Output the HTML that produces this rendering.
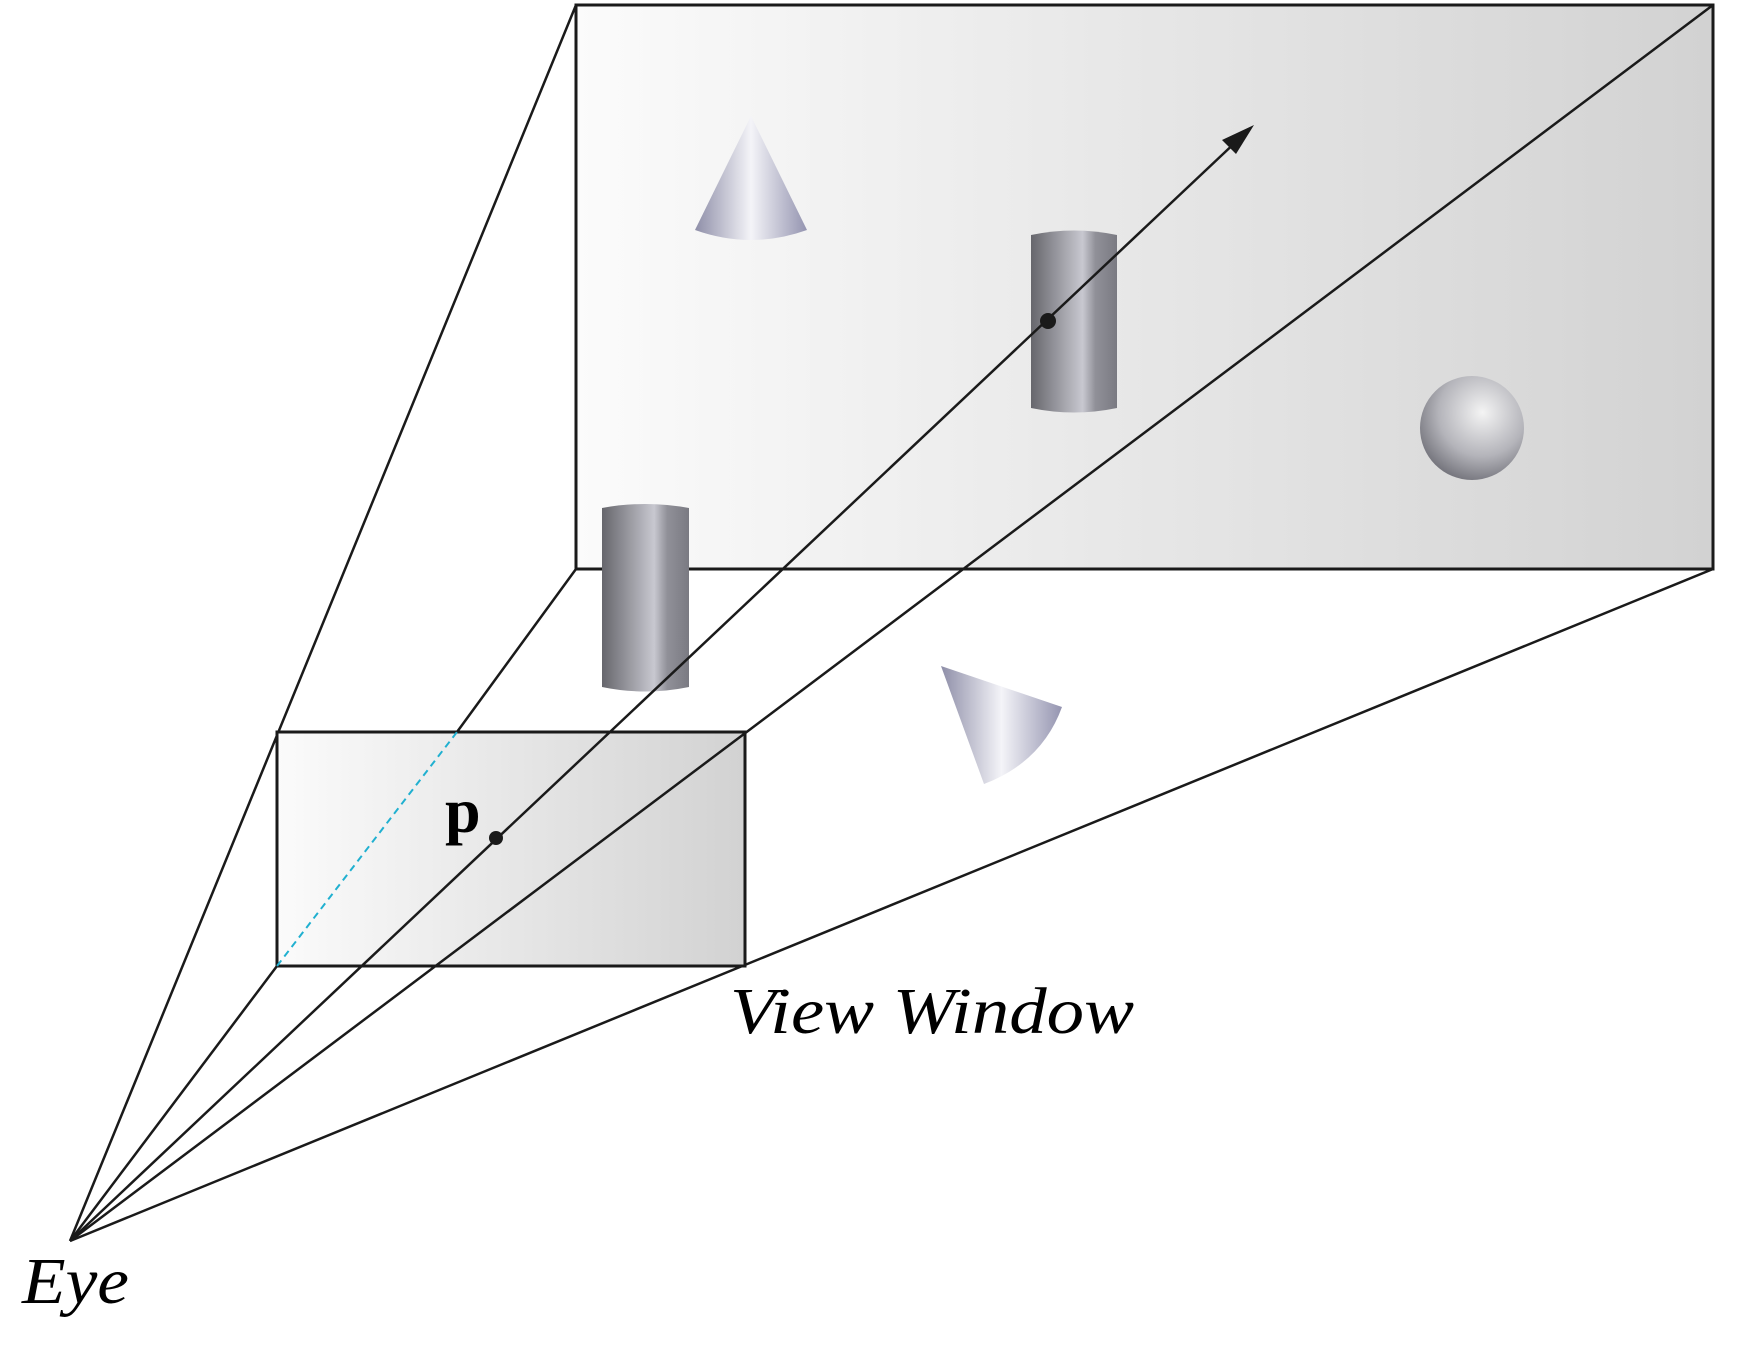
<!DOCTYPE html>
<html><head><style>body{margin:0;background:#fff}svg{display:block}</style></head><body>
<svg width="1757" height="1348" viewBox="0 0 1757 1348" xmlns="http://www.w3.org/2000/svg">
<defs>
<linearGradient id="bg" x1="0" x2="1" y1="0" y2="0"><stop offset="0" stop-color="#fbfbfb"/><stop offset="1" stop-color="#d2d2d2"/></linearGradient>
<linearGradient id="cyl" x1="0" x2="1"><stop offset="0" stop-color="#66666c"/><stop offset="0.6" stop-color="#c8c8d0"/><stop offset="0.75" stop-color="#909098"/><stop offset="1" stop-color="#7a7a82"/></linearGradient>
<linearGradient id="cone" x1="0" x2="1"><stop offset="0" stop-color="#8e8ea8"/><stop offset="0.5" stop-color="#f4f4f8"/><stop offset="1" stop-color="#9494b0"/></linearGradient>
<radialGradient id="sph" cx="0.6" cy="0.35" r="0.7"><stop offset="0" stop-color="#f4f4f4"/><stop offset="0.6" stop-color="#b4b4ba"/><stop offset="1" stop-color="#707078"/></radialGradient>
</defs>
<rect x="576" y="5" width="1137" height="564" fill="url(#bg)" stroke="#1a1a1a" stroke-width="3"/>
<g stroke="#1a1a1a" stroke-width="2.5" fill="none">
<line x1="70" y1="1241" x2="576" y2="5"/>
<line x1="457" y1="732" x2="576" y2="569"/>
<line x1="70" y1="1241" x2="1713" y2="569"/>
</g>
<path d="M751 116 L695 230 Q751 250 807 230 Z" fill="url(#cone)"/>
<path d="M1031 235 Q1074 226 1117 235 L1117 408 Q1074 417 1031 408 Z" fill="url(#cyl)"/>
<circle cx="1472" cy="428" r="52" fill="url(#sph)"/>
<path d="M602 508 Q645 500 689 508 L689 687 Q645 696 602 687 Z" fill="url(#cyl)"/>
<path d="M941 666 L1062 707 Q1042 762 984 784 Z" fill="url(#cone)"/>
<rect x="277" y="732" width="468" height="234" fill="url(#bg)" stroke="#1a1a1a" stroke-width="3"/>
<line x1="277" y1="966" x2="457" y2="732" stroke="#20b0d0" stroke-width="2" stroke-dasharray="7,5"/>
<g stroke="#1a1a1a" stroke-width="2.5" fill="none">
<line x1="70" y1="1241" x2="277" y2="966"/>
<line x1="70" y1="1241" x2="1713" y2="5"/>
<line x1="70" y1="1241" x2="1240" y2="138"/>
</g>
<polygon points="1254,125 1222,140 1236,154" fill="#1a1a1a"/>
<circle cx="496" cy="838" r="7" fill="#1a1a1a"/>
<circle cx="1048" cy="321" r="8" fill="#1a1a1a"/>
<text x="445" y="832" font-family="Liberation Serif, serif" font-weight="bold" font-size="64">p</text>
<text x="730" y="1033" font-family="Liberation Serif, serif" font-style="italic" font-size="66" textLength="404" lengthAdjust="spacingAndGlyphs">View Window</text>
<text x="22" y="1303" font-family="Liberation Serif, serif" font-style="italic" font-size="66" textLength="107" lengthAdjust="spacingAndGlyphs">Eye</text>
</svg>
</body></html>
